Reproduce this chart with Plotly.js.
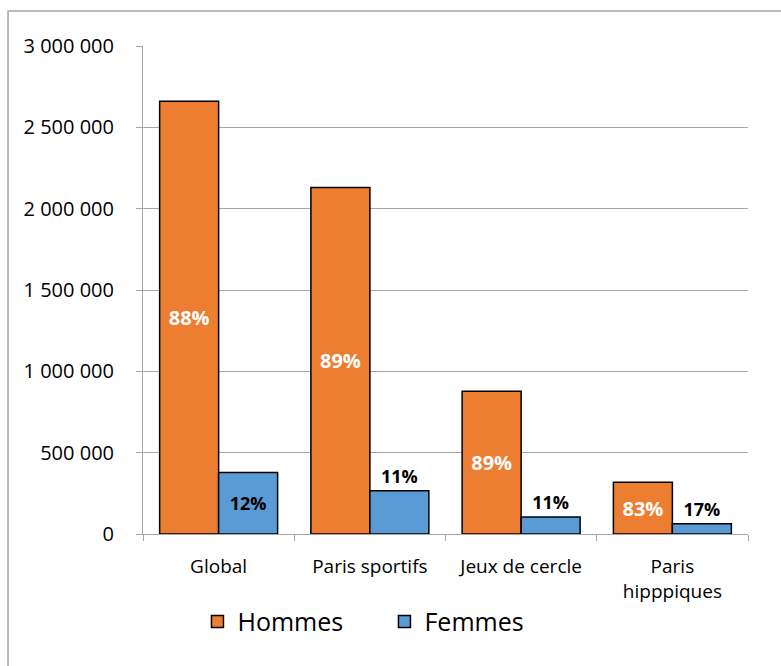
<!DOCTYPE html>
<html>
<head>
<meta charset="utf-8">
<script src="https://cdn.plot.ly/plotly-3.0.1.min.js"></script>
<style>html,body{margin:0;padding:0;background:#fff;}#chart{width:781px;height:666px;}</style>
</head>
<body>
<div id="chart"></div>
<script>
const categories = ['Global', 'Paris sportifs', 'Jeux de cercle', 'Paris<br>hipppiques'];
const hommes = [2660000, 2130000, 878000, 318000];
const femmes = [378000, 266000, 104000, 63000];
const hommesPct = ['88%', '89%', '89%', '83%'];
const femmesPct = ['12%', '11%', '11%', '17%'];

const FONT = '"Open Sans", "Noto Sans", sans-serif';
const traces = [
  {
    type: 'bar', name: 'Hommes', x: categories, y: hommes,
    text: hommesPct, textposition: 'inside', insidetextanchor: 'middle',
    textfont: {family: FONT, size: 20, color: '#ffffff', weight: 'bold'},
    marker: {color: '#ED7D31', line: {color: '#000000', width: 1.5}},
    hoverinfo: 'none'
  },
  {
    type: 'bar', name: 'Femmes', x: categories, y: femmes,
    text: femmesPct, textposition: ['inside', 'outside', 'outside', 'outside'],
    insidetextanchor: 'middle', constraintext: 'none',
    textfont: {family: FONT, size: 18, color: '#000000', weight: 'bold'},
    outsidetextfont: {family: FONT, size: 18, color: '#000000', weight: 'bold'},
    marker: {color: '#5B9BD5', line: {color: '#000000', width: 1.5}},
    hoverinfo: 'none', cliponaxis: false
  }
];

const layout = {
  width: 781, height: 666,
  margin: {l: 143, r: 33, t: 46, b: 132},
  paper_bgcolor: '#ffffff', plot_bgcolor: '#ffffff',
  separators: ', ',
  font: {family: FONT, size: 19, color: '#000000'},
  barmode: 'group', bargap: 0.22, bargroupgap: 0,
  showlegend: true,
  legend: {orientation: 'h', x: 0.09, xanchor: 'left', y: -0.18, yanchor: 'middle',
           font: {family: FONT, size: 25, color: '#000000'}, entrywidth: 142, traceorder: 'normal'},
  xaxis: {
    type: 'category', showline: true, linecolor: '#a6a6a6', linewidth: 1,
    ticks: 'outside', tickson: 'boundaries', ticklen: 6, tickcolor: '#a6a6a6',
    tickfont: {family: FONT, size: 19, color: '#000000'}, showgrid: false, zeroline: false,
    ticklabelstandoff: 15
  },
  yaxis: {
    range: [0, 3000000], dtick: 500000, tickformat: ',d',
    showline: true, linecolor: '#a6a6a6', linewidth: 1,
    ticks: 'outside', ticklen: 6, tickcolor: '#a6a6a6',
    showgrid: true, gridcolor: '#a6a6a6', gridwidth: 1, zeroline: false,
    tickfont: {family: FONT, size: 20, color: '#000000'}, ticklabelstandoff: 18
  },
  shapes: [{
    type: 'rect', xref: 'paper', yref: 'paper',
    x0: -0.2231, x1: 1.2, y0: 1.0717, y1: -0.4,
    line: {color: '#a6a6a6', width: 1.5}, fillcolor: 'rgba(0,0,0,0)', layer: 'below'
  }]
};

Plotly.newPlot('chart', traces, layout, {displayModeBar: false, staticPlot: true});
</script>
</body>
</html>
